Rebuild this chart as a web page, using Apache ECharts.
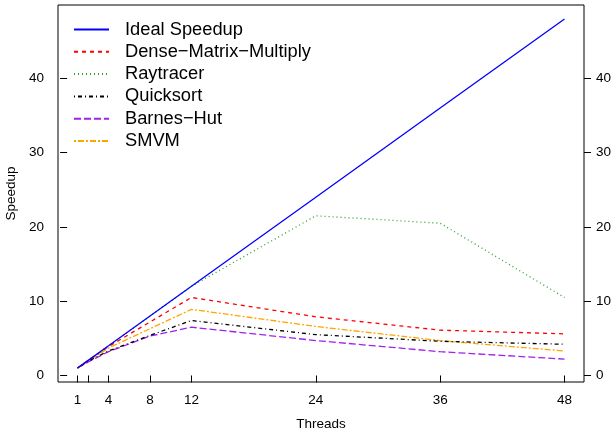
<!DOCTYPE html>
<html>
<head>
<meta charset="utf-8">
<script src="https://cdn.jsdelivr.net/npm/echarts@6/dist/echarts.min.js"></script>
<style>
html,body{margin:0;padding:0;background:#fff;}
#chart{width:613px;height:432px;}
</style>
</head>
<body>
<div id="chart"></div>
<script>
var threads = [1, 2, 4, 8, 12, 24, 36, 48];
var xTickValues = [1, 2, 4, 8, 12, 24, 36, 48];
var xLabelValues = [1, 4, 8, 12, 24, 36, 48];
var yTickValues = [0, 10, 20, 30, 40];

var idealSpeedup = [1, 2, 4, 8, 12, 24, 36, 48];
var denseMatrix = [1, 2, 3.9, 7.2, 10.5, 7.9, 6.1, 5.6];
var raytracer = [1, 2, 4, 8, 12, 21.5, 20.5, 10.5];
var quicksort = [1, 1.9, 3.3, 5.4, 7.4, 5.5, 4.6, 4.2];
var barnesHut = [1, 1.8, 3.2, 5.3, 6.5, 4.7, 3.2, 2.2];
var smvm = [1, 1.9, 3.7, 6.3, 8.9, 6.6, 4.7, 3.3];

var seriesNames = ['Ideal Speedup', 'Dense\u2212Matrix\u2212Multiply', 'Raytracer', 'Quicksort', 'Barnes\u2212Hut', 'SMVM'];
var seriesValues = [idealSpeedup, denseMatrix, raytracer, quicksort, barnesHut, smvm];
var seriesColors = ['#0000FF', '#FF0000', '#2E9B2E', '#000000', '#A020F0', '#FFA500'];
var seriesDash = ['solid', [4, 4], [1, 3], [1, 3, 4, 3], [7, 3], [2, 2, 6, 2]];

function pairs(vals) {
  return threads.map(function (t, i) { return [t, vals[i]]; });
}

var FONT = 'Liberation Sans, Arial, sans-serif';
var chart = echarts.init(document.getElementById('chart'), null, {renderer: 'canvas'});

var series = seriesNames.map(function (name, i) {
  return {
    name: name,
    type: 'line',
    data: pairs(seriesValues[i]),
    symbol: 'none',
    showSymbol: false,
    animation: false,
    lineStyle: {color: seriesColors[i], width: 1.3, type: seriesDash[i]},
    itemStyle: {color: seriesColors[i]},
    z: 10 - i
  };
});

var yAxisCommon = {
  type: 'value',
  min: -0.88,
  max: 49.88,
  splitLine: {show: false},
  axisLine: {show: false},
  axisTick: {show: true, inside: false, length: 7, customValues: yTickValues, lineStyle: {color: '#000', width: 1}},
  axisLabel: {customValues: yTickValues, margin: 14, color: '#000', fontSize: 13.5, fontFamily: FONT}
};

chart.setOption({
  animation: false,
  backgroundColor: '#fff',
  grid: {left: 58, right: 29, top: 5, bottom: 50, show: true, borderColor: '#000', borderWidth: 1, containLabel: false, outerBoundsMode: 'none'},
  legend: {
    orient: 'vertical',
    left: 68,
    top: 15.5,
    itemWidth: 35,
    itemHeight: 18,
    itemGap: 4.3,
    data: seriesNames,
    itemStyle: {opacity: 0},
    textStyle: {color: '#000', fontSize: 18.3, fontFamily: FONT, lineHeight: 18, padding: [0, 0, 0, 11]}
  },
  xAxis: {
    type: 'value',
    min: -0.88,
    max: 49.88,
    name: 'Threads',
    nameLocation: 'middle',
    nameGap: 35,
    nameTextStyle: {color: '#000', fontSize: 13.5, fontFamily: FONT},
    splitLine: {show: false},
    axisLine: {show: false},
    axisTick: {show: true, inside: false, length: 7, customValues: xTickValues, lineStyle: {color: '#000', width: 1}},
    axisLabel: {customValues: xLabelValues, margin: 11, color: '#000', fontSize: 13.5, fontFamily: FONT}
  },
  yAxis: [
    Object.assign({}, yAxisCommon, {
      position: 'left',
      name: 'Speedup',
      nameLocation: 'middle',
      nameGap: 37,
      nameTextStyle: {color: '#000', fontSize: 13.5, fontFamily: FONT}
    }),
    Object.assign({}, yAxisCommon, {position: 'right', axisLabel: Object.assign({}, yAxisCommon.axisLabel, {margin: 12})})
  ],
  series: series
});
</script>
</body>
</html>
